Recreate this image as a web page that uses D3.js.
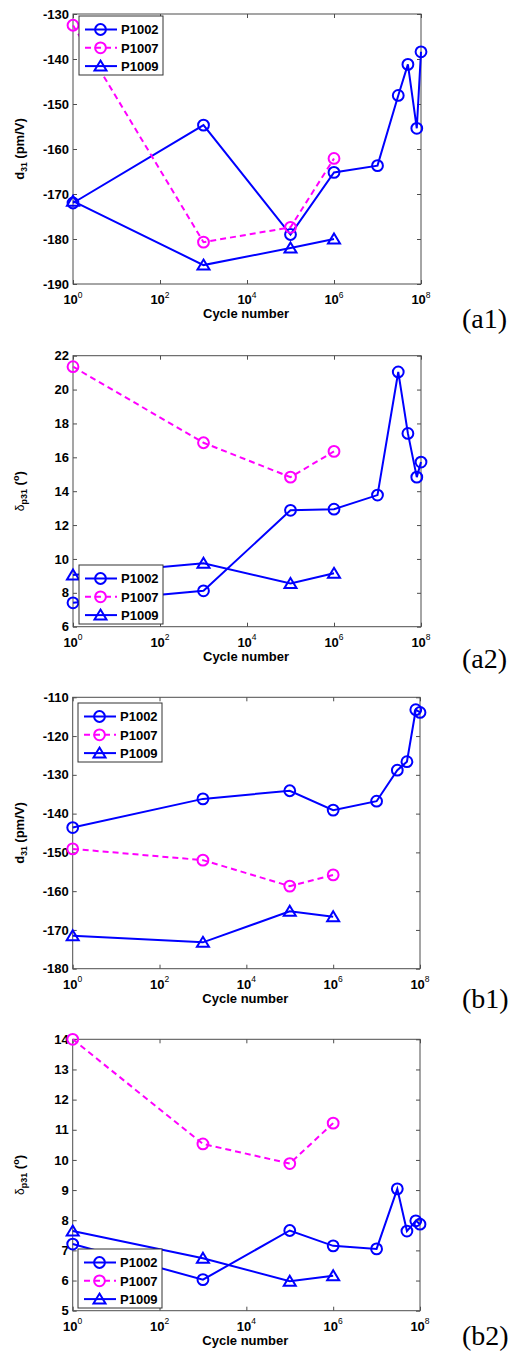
<!DOCTYPE html>
<html>
<head>
<meta charset="utf-8">
<script src="https://cdn.jsdelivr.net/npm/d3@7"></script>
<style>
  html, body { margin: 0; padding: 0; background: #fff; }
  svg { display: block; }
</style>
</head>
<body>
<div id="chart"></div>
<script>
// ---------- data ----------
const seriesNames = ["P1002", "P1007", "P1009"];
const cyclesLong = [1, 1e3, 1e5, 1e6, 1e7, 3e7, 5e7, 8e7, 1e8];
const cyclesShort = [1, 1e3, 1e5, 1e6];
const xTickExponents = [0, 2, 4, 6, 8];

// (a1) d31 (pm/V)
const a1_P1002 = [-172.0, -154.7, -179.0, -165.2, -163.7, -148.1, -141.2, -155.4, -138.4];
const a1_P1007 = [-132.5, -180.7, -177.4, -162.1];
const a1_P1009 = [-171.6, -185.8, -182.0, -180.0];
const a1_yTicks = [-190, -180, -170, -160, -150, -140, -130];

// (a2) delta p31 (deg)
const a2_P1002 = [7.41, 8.12, 12.87, 12.94, 13.77, 21.04, 17.41, 14.83, 15.72];
const a2_P1007 = [21.35, 16.86, 14.83, 16.35];
const a2_P1009 = [9.05, 9.75, 8.55, 9.15];
const a2_yTicks = [6, 8, 10, 12, 14, 16, 18, 20, 22];

// (b1) d31 (pm/V)
const b1_P1002 = [-143.6, -136.2, -134.1, -139.1, -136.8, -128.8, -126.6, -113.2, -113.9];
const b1_P1007 = [-149.1, -152.0, -158.7, -155.8];
const b1_P1009 = [-171.5, -173.2, -165.2, -166.6];
const b1_yTicks = [-180, -170, -160, -150, -140, -130, -120, -110];

// (b2) delta p31 (deg)
const b2_P1002 = [7.21, 6.03, 7.66, 7.15, 7.05, 9.04, 7.64, 7.98, 7.87];
const b2_P1007 = [14.0, 10.53, 9.88, 11.22];
const b2_P1009 = [7.64, 6.74, 5.98, 6.16];
const b2_yTicks = [5, 6, 7, 8, 9, 10, 11, 12, 13, 14];

const panelLabels = ["(a1)", "(a2)", "(b1)", "(b2)"];

// ---------- drawing ----------
const W = 514, H = 1354;
const SANS = "'Liberation Sans', Arial, sans-serif";
const SERIF = "'Liberation Serif', 'Times New Roman', serif";
const svg = d3.select("#chart").append("svg").attr("width", W).attr("height", H)
  .style("font-family", SANS);

const BLUE = "#0000ff", MAGENTA = "#ff00ff", AXIS = "#4d4d4d";
const LW = 2;

const panels = [
  { label: panelLabels[0], top: 14, bottom: 284, left: 73, right: 421, yTicks: a1_yTicks,
    ylab: "d31", legend: [79, 16], labelY: 328,
    data: [a1_P1002, a1_P1007, a1_P1009] },
  { label: panelLabels[1], top: 355.7, bottom: 626.7, left: 73, right: 421, yTicks: a2_yTicks,
    ylab: "delta", legend: [79, 565], labelY: 668,
    data: [a2_P1002, a2_P1007, a2_P1009] },
  { label: panelLabels[2], top: 697.3, bottom: 968.7, left: 72.7, right: 420, yTicks: b1_yTicks,
    ylab: "d31", legend: [78, 703], labelY: 1008,
    data: [b1_P1002, b1_P1007, b1_P1009] },
  { label: panelLabels[3], top: 1039.3, bottom: 1310.7, left: 72.7, right: 420, yTicks: b2_yTicks,
    ylab: "delta", legend: [78, 1249], labelY: 1345,
    data: [b2_P1002, b2_P1007, b2_P1009] }
];

const styles = [
  { color: BLUE, dash: null, marker: "circle" },
  { color: MAGENTA, dash: "6,4", marker: "circle" },
  { color: BLUE, dash: null, marker: "triangle" }
];

function drawMarker(g, type, x, y, color) {
  if (type === "circle") {
    g.append("circle").attr("cx", x).attr("cy", y).attr("r", 5.4)
      .attr("fill", "none").attr("stroke", color).attr("stroke-width", LW);
  } else {
    g.append("path")
      .attr("d", `M${x},${y - 5.5} L${x + 6},${y + 4.5} L${x - 6},${y + 4.5} Z`)
      .attr("fill", "none").attr("stroke", color).attr("stroke-width", LW)
      .attr("stroke-linejoin", "miter");
  }
}

panels.forEach(p => {
  const g = svg.append("g");
  const x = d3.scaleLog().domain([1, 1e8]).range([p.left, p.right]);
  const yDom = d3.extent(p.yTicks);
  const y = d3.scaleLinear().domain(yDom).range([p.bottom, p.top]);

  const xTicks = xTickExponents.map(e => Math.pow(10, e));

  // axes via d3 axis generators (inward ticks on all four sides)
  const tickLen = 4;
  const axB = g.append("g").attr("transform", `translate(0,${p.bottom})`)
    .call(d3.axisBottom(x).tickValues(xTicks).tickSizeInner(-tickLen).tickSizeOuter(0).tickFormat(""));
  const axT = g.append("g").attr("transform", `translate(0,${p.top})`)
    .call(d3.axisTop(x).tickValues(xTicks).tickSizeInner(-tickLen).tickSizeOuter(0).tickFormat(""));
  const axL = g.append("g").attr("transform", `translate(${p.left},0)`)
    .call(d3.axisLeft(y).tickValues(p.yTicks).tickSizeInner(-tickLen).tickSizeOuter(0).tickFormat(""));
  const axR = g.append("g").attr("transform", `translate(${p.right},0)`)
    .call(d3.axisRight(y).tickValues(p.yTicks).tickSizeInner(-tickLen).tickSizeOuter(0).tickFormat(""));
  [axB, axT, axL, axR].forEach(a => {
    a.select(".domain").remove();
    a.selectAll("line").attr("stroke", AXIS).attr("stroke-width", 1);
  });
  g.append("rect").attr("x", p.left).attr("y", p.top)
    .attr("width", p.right - p.left).attr("height", p.bottom - p.top)
    .attr("fill", "none").attr("stroke", AXIS).attr("stroke-width", 1);

  // y tick labels
  g.selectAll(".ytl").data(p.yTicks).enter().append("text")
    .attr("x", p.left - 4).attr("y", d => y(d) + 4.6)
    .attr("text-anchor", "end").attr("font-size", 13).attr("font-weight", "bold")
    .attr("fill", "#000").text(d => d);

  // x tick labels 10^n
  xTickExponents.forEach(e => {
    const t = g.append("text").attr("x", x(Math.pow(10, e))).attr("y", p.bottom + 20)
      .attr("text-anchor", "middle").attr("font-size", 13).attr("font-weight", "bold").attr("fill", "#000");
    t.append("tspan").text("10");
    t.append("tspan").attr("font-size", 8.5).attr("font-weight", "normal").attr("dy", -6.5).text(e);
  });

  // x label
  g.append("text").attr("x", (p.left + p.right) / 2 - 1).attr("y", p.bottom + 34)
    .attr("text-anchor", "middle").attr("font-size", 13).attr("font-weight", "bold")
    .attr("fill", "#000").text("Cycle number");

  // y label
  const cy = (p.top + p.bottom) / 2;
  const yl = g.append("text").attr("transform", `translate(24,${cy}) rotate(-90)`)
    .attr("text-anchor", "middle").attr("font-size", 13).attr("font-weight", "bold").attr("fill", "#000");
  if (p.ylab === "d31") {
    yl.append("tspan").text("d");
    yl.append("tspan").attr("font-size", 8.5).attr("dy", 3).text("31");
    yl.append("tspan").attr("dy", -3).text(" (pm/V)");
  } else {
    yl.append("tspan").attr("font-weight", "normal").attr("font-size", 12).text("δ");
    yl.append("tspan").attr("font-size", 9).attr("dy", 3).text("p31");
    yl.append("tspan").attr("dy", -3).text(" (");
    yl.append("tspan").attr("font-size", 9).attr("dy", -5).text("o");
    yl.append("tspan").attr("dy", 5).text(")");
  }

  // series
  const line = d3.line().x(d => x(d[0])).y(d => y(d[1]));
  p.data.forEach((vals, i) => {
    const xs = vals.length === cyclesLong.length ? cyclesLong : cyclesShort;
    const pts = vals.map((v, k) => [xs[k], v]);
    const st = styles[i];
    g.append("path").datum(pts).attr("d", line)
      .attr("fill", "none").attr("stroke", st.color).attr("stroke-width", LW)
      .attr("stroke-dasharray", st.dash);
    pts.forEach(d => drawMarker(g, st.marker, x(d[0]), y(d[1]), st.color));
  });

  // legend
  const [lx, ly] = p.legend;
  const lg = g.append("g");
  lg.append("rect").attr("x", lx).attr("y", ly).attr("width", 84).attr("height", 59)
    .attr("fill", "#fff").attr("stroke", "#333").attr("stroke-width", 1);
  seriesNames.forEach((name, i) => {
    const ey = ly + 13.5 + i * 18.3;
    const st = styles[i];
    lg.append("line").attr("x1", lx + 6).attr("x2", lx + 38).attr("y1", ey).attr("y2", ey)
      .attr("stroke", st.color).attr("stroke-width", LW).attr("stroke-dasharray", st.dash);
    drawMarker(lg, st.marker, lx + 21.5, ey, st.color);
    lg.append("text").attr("x", lx + 42).attr("y", ey + 4.7)
      .attr("font-size", 13).attr("font-weight", "bold").attr("fill", "#000").text(name);
  });

  // panel label
  g.append("text").attr("x", 462).attr("y", p.labelY)
    .style("font-family", SERIF)
    .attr("font-size", 28).attr("fill", "#000").text(p.label);
});
</script>
</body>
</html>
